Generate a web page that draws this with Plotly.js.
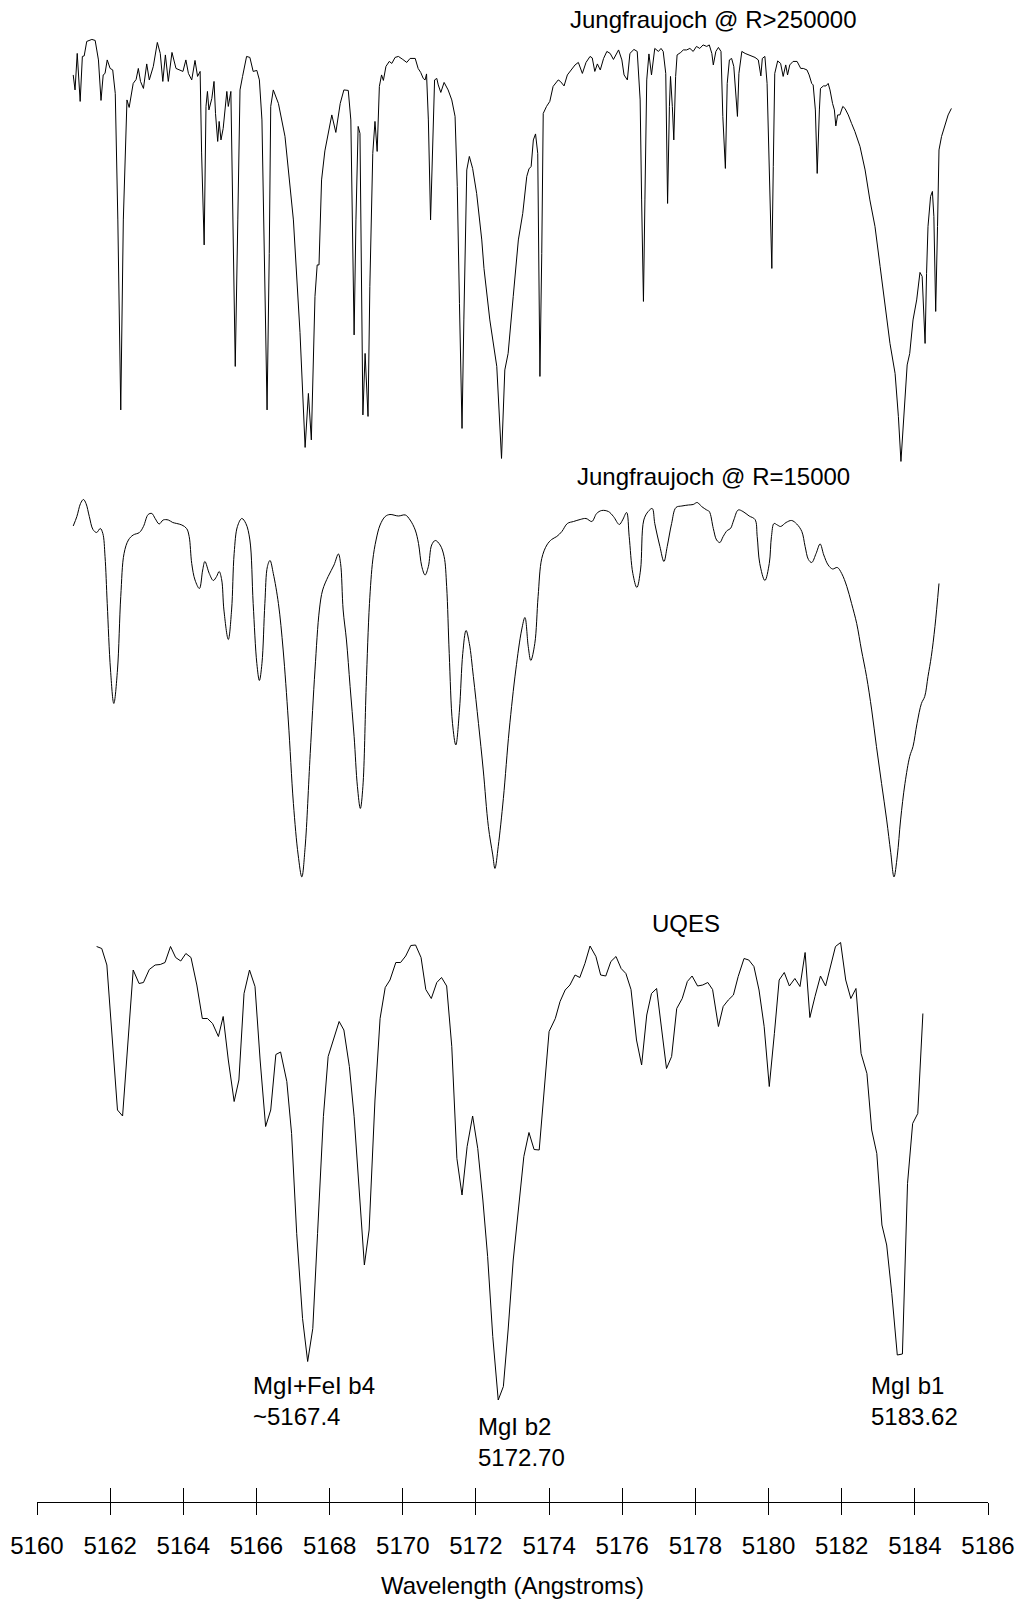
<!DOCTYPE html>
<html>
<head>
<meta charset="utf-8">
<script src="https://cdn.plot.ly/plotly-3.0.1.min.js"></script>
<style>html,body{margin:0;padding:0;background:#fff;}#chart{width:1021px;height:1604px;}</style>
</head>
<body>
<div id="chart"></div>
<script>
// Wavelength (Angstroms) and relative flux (percent of continuum-ish)
const wlHigh = [5160.99,5161.04,5161.10,5161.18,5161.24,5161.29,5161.36,5161.50,5161.59,5161.68,5161.75,5161.81,5161.86,5161.92,5162.00,5162.07,5162.14,5162.21,5162.29,5162.36,5162.46,5162.52,5162.63,5162.71,5162.77,5162.83,5162.91,5163.00,5163.07,5163.18,5163.29,5163.37,5163.44,5163.51,5163.59,5163.69,5163.80,5163.91,5163.99,5164.07,5164.14,5164.23,5164.32,5164.39,5164.46,5164.50,5164.57,5164.62,5164.66,5164.70,5164.78,5164.84,5164.88,5164.94,5164.98,5165.03,5165.09,5165.19,5165.23,5165.30,5165.35,5165.42,5165.49,5165.55,5165.62,5165.73,5165.82,5165.91,5166.01,5166.08,5166.15,5166.22,5166.29,5166.35,5166.39,5166.46,5166.60,5166.78,5167.01,5167.19,5167.33,5167.42,5167.50,5167.60,5167.66,5167.71,5167.78,5167.87,5167.99,5168.06,5168.17,5168.29,5168.39,5168.51,5168.58,5168.62,5168.67,5168.72,5168.78,5168.83,5168.87,5168.91,5168.97,5169.05,5169.10,5169.18,5169.24,5169.30,5169.36,5169.42,5169.47,5169.54,5169.63,5169.70,5169.79,5169.88,5170.00,5170.11,5170.20,5170.34,5170.42,5170.49,5170.56,5170.61,5170.65,5170.70,5170.76,5170.82,5170.87,5170.93,5170.97,5171.04,5171.13,5171.24,5171.34,5171.43,5171.49,5171.55,5171.62,5171.67,5171.75,5171.82,5171.91,5172.02,5172.16,5172.22,5172.38,5172.57,5172.70,5172.79,5172.88,5173.02,5173.16,5173.28,5173.39,5173.45,5173.51,5173.57,5173.63,5173.69,5173.71,5173.75,5173.80,5173.84,5173.93,5174.02,5174.11,5174.25,5174.31,5174.41,5174.50,5174.59,5174.71,5174.80,5174.91,5175.01,5175.12,5175.18,5175.25,5175.32,5175.40,5175.49,5175.58,5175.67,5175.76,5175.90,5175.99,5176.05,5176.14,5176.21,5176.32,5176.41,5176.49,5176.53,5176.58,5176.62,5176.67,5176.73,5176.80,5176.89,5176.99,5177.06,5177.12,5177.19,5177.24,5177.29,5177.32,5177.37,5177.41,5177.46,5177.50,5177.60,5177.67,5177.76,5177.85,5177.94,5178.03,5178.12,5178.21,5178.31,5178.38,5178.45,5178.49,5178.56,5178.63,5178.70,5178.75,5178.82,5178.87,5178.93,5178.99,5179.05,5179.11,5179.15,5179.19,5179.27,5179.36,5179.45,5179.54,5179.63,5179.72,5179.79,5179.83,5179.90,5179.96,5180.02,5180.09,5180.13,5180.17,5180.25,5180.33,5180.40,5180.47,5180.52,5180.58,5180.67,5180.78,5180.88,5180.95,5181.05,5181.11,5181.18,5181.22,5181.28,5181.33,5181.39,5181.42,5181.50,5181.57,5181.63,5181.68,5181.75,5181.80,5181.84,5181.89,5181.95,5182.03,5182.09,5182.18,5182.27,5182.36,5182.50,5182.64,5182.77,5182.91,5183.05,5183.18,5183.32,5183.46,5183.55,5183.62,5183.70,5183.79,5183.86,5183.95,5184.05,5184.14,5184.20,5184.24,5184.28,5184.32,5184.36,5184.43,5184.48,5184.52,5184.57,5184.62,5184.66,5184.73,5184.82,5184.91,5185.00];
const fluxHigh = [93,90,97.3,87.7,96.7,96.8,99.7,100.1,99.9,96,87.9,93,93.3,96,94.3,94,89.3,64,26,64,88,86.5,91.3,92.1,94.3,91.7,90.3,95.2,92,94.7,99.5,97.3,91.7,97,91.7,97.5,94.3,93.9,93.7,96,93.3,92,95.9,92.7,93.7,77.4,59,86.7,89.7,86,88.3,91.7,85.3,79.7,83.7,80,82.3,89.7,86.7,89.7,64,34.7,64,90,92.7,96.7,96.5,93.7,93.9,92,84,57.3,26,57.3,86.7,90,87.3,80.7,64,41.5,18.5,29.3,20,48.7,55,55,72,77.8,82,85,81.5,87.3,90,89.9,84,64,41,64,82.7,81.3,57.3,25,37.3,24.7,50.7,77.3,83.7,77.7,90.7,93,91.9,94.7,95.7,95.3,96.5,96.7,96.1,95.5,96.3,96.3,94.3,93.5,92.3,92,93.2,84,64,81.3,92,92.3,91,89.5,91.5,90,88,84.7,70.7,47.3,22.3,44,74,76.7,74.3,69.3,60,54.3,44,34.7,16.3,34,37.3,48.7,60,65.3,72.7,74.2,74.7,80,81.2,77.3,57.3,32.7,57.3,85.3,86.7,87.7,90.7,92,91.7,90.8,93,93.9,95,95.5,93.3,95.5,96.7,96.4,93.7,95.2,94,96.3,97.7,97.3,96.1,98,96,93,92,97.3,98.1,97.7,88,68,47.7,68,92,97.2,93,98.3,97.7,98.3,97.7,93.3,67.3,86.7,92.7,86.7,80,92.7,97,97.5,98,98,98.3,97.7,98.7,98.3,99,98.7,99,97.3,95,97.7,98.5,97.7,84.7,74.3,91.3,96,96.3,94.7,88,84.7,93.3,97.7,97.3,97,96.8,96.5,96,92.8,96.3,96.7,91.3,74.7,54.3,74.7,93.3,95.8,95.3,92.7,95,93,95,95.7,95.7,94.3,94.3,94,93,91.3,91,86,73.3,86,90.3,90.8,90.8,91.3,90,87.3,86,82.8,85,85,86.7,86.3,85,83.3,81.7,78.7,74,68,62.7,54.7,46.7,39.3,33.3,24.7,15.7,24.7,35,37.3,44,48,53.5,52.7,46.7,39.3,53.3,62.7,68.7,69.7,64.7,45.7,62.7,78,80.7,82.7,85,86.3];

const wlMid = [5160.99,5161.09,5161.19,5161.27,5161.34,5161.43,5161.53,5161.63,5161.73,5161.80,5161.86,5161.92,5162.01,5162.10,5162.20,5162.29,5162.38,5162.50,5162.63,5162.80,5162.91,5163.04,5163.14,5163.23,5163.34,5163.45,5163.59,5163.71,5163.82,5163.96,5164.09,5164.16,5164.23,5164.32,5164.44,5164.53,5164.59,5164.71,5164.82,5164.91,5164.98,5165.05,5165.11,5165.23,5165.32,5165.39,5165.48,5165.60,5165.71,5165.82,5165.91,5166.01,5166.08,5166.15,5166.23,5166.30,5166.37,5166.46,5166.60,5166.73,5166.87,5167.01,5167.14,5167.24,5167.33,5167.47,5167.60,5167.72,5167.81,5167.96,5168.12,5168.24,5168.30,5168.37,5168.46,5168.56,5168.67,5168.76,5168.84,5168.91,5169.00,5169.09,5169.18,5169.27,5169.38,5169.52,5169.65,5169.88,5170.07,5170.20,5170.34,5170.43,5170.52,5170.61,5170.70,5170.79,5170.89,5171.02,5171.13,5171.20,5171.27,5171.36,5171.45,5171.55,5171.64,5171.73,5171.82,5171.93,5172.07,5172.20,5172.34,5172.46,5172.52,5172.61,5172.75,5172.91,5173.09,5173.25,5173.34,5173.43,5173.50,5173.61,5173.70,5173.80,5173.94,5174.07,5174.21,5174.35,5174.50,5174.67,5174.85,5175.01,5175.17,5175.30,5175.44,5175.62,5175.76,5175.92,5176.01,5176.12,5176.19,5176.29,5176.40,5176.50,5176.59,5176.71,5176.82,5176.89,5177.03,5177.14,5177.23,5177.35,5177.47,5177.63,5177.81,5177.94,5178.05,5178.17,5178.31,5178.38,5178.49,5178.58,5178.67,5178.76,5178.87,5178.96,5179.05,5179.17,5179.30,5179.47,5179.63,5179.69,5179.76,5179.90,5180.02,5180.08,5180.15,5180.24,5180.33,5180.48,5180.63,5180.77,5180.91,5181.00,5181.09,5181.18,5181.30,5181.41,5181.51,5181.63,5181.75,5181.88,5182.00,5182.14,5182.27,5182.41,5182.54,5182.68,5182.82,5182.95,5183.09,5183.23,5183.34,5183.43,5183.52,5183.61,5183.73,5183.86,5183.95,5184.06,5184.18,5184.27,5184.36,5184.45,5184.55,5184.66];
const fluxMid = [94.8,96.7,99.3,100.1,99.3,96.7,94.1,93.5,94.3,93.3,88.7,79.3,66,59.3,66,80.7,89.3,92,93,93.5,94.7,97.1,97.3,96.3,95.2,96,96,95.5,95.3,95,94.3,92.7,87.3,84,82.3,86,87.7,85.3,83.9,84.7,85.7,84,78,72.1,78,89.3,94.7,96.3,95.3,92,79.3,67.3,63.9,67.3,79.3,86.7,87.9,85.3,79.3,70,56,39.3,29,24.6,30.5,49.3,66,78,82,84.7,87,89.2,87.3,78,72,62.7,52.7,42.7,38.3,42.7,62.7,79.3,88,92,95,96.7,97.1,96.8,97,96,94,91.3,86.7,85,86.7,91,91.9,91,88.7,82.7,69.3,55.3,51,58,69.3,73.9,71.3,64.7,55.3,46,34.7,29,26.3,30.7,40.3,54,66,74,76.5,70.7,67.9,71.3,80.7,88.3,91,92.1,92.7,93.7,95.3,95.7,96.1,96.3,95.7,97.3,97.9,97.7,96.7,95.1,96,97.5,92.7,85.3,82.5,86,96,97.7,98.3,95.3,90.7,87.7,90.7,95.3,98.5,98.8,99,99.1,99.5,98.7,98,97.7,94.3,92,91.5,92.7,93.9,94.3,96,98,97.7,96.8,96.1,92.7,87.3,83.9,87.3,92.7,95.3,95,94.7,95.5,95.9,95.2,93.7,90.7,88.1,87.5,89.3,91.2,89,87,86.2,86.5,85.3,82.7,79.3,75.3,70,64.7,58,50.7,43.3,36,29.5,24.6,28.8,36,43.3,48.7,50.7,55.3,59.3,60.7,64.7,68.7,74.7,83.3];

const wlUqes = [5161.63,5161.77,5161.91,5162.04,5162.20,5162.34,5162.50,5162.63,5162.79,5162.91,5163.07,5163.23,5163.37,5163.50,5163.65,5163.79,5163.93,5164.07,5164.21,5164.37,5164.52,5164.66,5164.80,5164.96,5165.09,5165.23,5165.39,5165.52,5165.66,5165.81,5165.96,5166.10,5166.25,5166.39,5166.53,5166.66,5166.83,5166.96,5167.10,5167.26,5167.40,5167.54,5167.67,5167.83,5167.96,5168.10,5168.26,5168.39,5168.54,5168.67,5168.81,5168.95,5169.08,5169.24,5169.38,5169.52,5169.65,5169.81,5169.94,5170.08,5170.22,5170.35,5170.50,5170.63,5170.78,5170.93,5171.06,5171.20,5171.34,5171.48,5171.62,5171.76,5171.91,5172.05,5172.19,5172.32,5172.46,5172.61,5172.75,5172.88,5173.02,5173.16,5173.31,5173.45,5173.59,5173.73,5173.86,5174.00,5174.17,5174.30,5174.44,5174.57,5174.71,5174.84,5174.98,5175.12,5175.28,5175.41,5175.55,5175.69,5175.83,5175.97,5176.10,5176.24,5176.39,5176.53,5176.67,5176.80,5176.94,5177.08,5177.21,5177.35,5177.49,5177.64,5177.78,5177.91,5178.06,5178.20,5178.34,5178.47,5178.63,5178.76,5178.90,5179.04,5179.17,5179.33,5179.46,5179.60,5179.74,5179.88,5180.02,5180.16,5180.29,5180.43,5180.57,5180.72,5180.86,5181.00,5181.13,5181.27,5181.42,5181.56,5181.70,5181.83,5181.97,5182.11,5182.25,5182.39,5182.53,5182.69,5182.82,5182.96,5183.10,5183.23,5183.37,5183.52,5183.66,5183.80,5183.94,5184.08,5184.22];
const fluxUqes = [98.7,98.3,95,81.3,66,64.8,81.3,94,91.3,91.5,94.1,95,95.1,95.5,98.7,96.5,95.8,97.3,96.5,91,84.3,84.3,83.3,80.7,84.7,76,67.7,72,89.3,94,90.7,76,62.7,66,77.1,77.6,71.7,61.3,41.3,24.3,15.7,22.3,41.3,64.7,76.7,80,83.7,82,74.7,64.7,49.3,35,42,68,84.3,90.5,92,95.5,95.5,96.8,98.9,99,96.5,90.1,88.3,91.5,92.5,90.8,78.7,56.3,49,58.7,64.8,58.3,48,36.7,20.7,8,10.7,22,36,46.7,56.7,61.5,58.1,58,70,81.7,84.3,87.7,90,91,93,92.5,95.3,98.8,96.7,93,92.8,95.7,96.7,94.3,93.3,90.1,80,75,85,89.3,90.3,82,74.3,76.7,86.3,88.3,91.7,92.8,90.8,91,91.5,90.1,82.7,86.7,88,89,92.7,96.3,96,94.7,90,82.7,70.7,81.3,92,93.5,90.8,92.3,90.7,97.5,84.5,88.7,92.8,90.8,95,98.7,99.5,92,88.3,90.3,77.3,73.3,62,57.3,43,39,29.3,17,17.2,51.3,63.3,65.3,85.3];

const seriesLabels = ['Jungfraujoch @ R>250000', 'Jungfraujoch @ R=15000', 'UQES'];
const lineNames = ['MgI+FeI b4<br>~5167.4', 'MgI b2<br>5172.70', 'MgI b1<br>5183.62'];
const lineLabelX = [5165.84, 5171.99, 5182.76];
const lineLabelY = [0.0672, 0.0399, 0.0672];
const seriesLabelX = [5178.5, 5178.5, 5177.73];
const seriesLabelY = [0.987, 0.6826, 0.385];

const FONT = 'Liberation Sans, Arial, Helvetica, sans-serif';
const lineStyle = {color: '#000', width: 1};

const traces = [
  {x: wlHigh, y: fluxHigh, xaxis: 'x', yaxis: 'y', type: 'scatter', mode: 'lines', line: lineStyle, name: seriesLabels[0]},
  {x: wlMid, y: fluxMid, xaxis: 'x', yaxis: 'y2', type: 'scatter', mode: 'lines', line: Object.assign({shape: 'spline', smoothing: 1}, lineStyle), name: seriesLabels[1]},
  {x: wlUqes, y: fluxUqes, xaxis: 'x2', yaxis: 'y3', type: 'scatter', mode: 'lines', line: lineStyle, name: seriesLabels[2]}
];

const hiddenY = {visible: false, showgrid: false, zeroline: false, fixedrange: true};

const annotations = [];
seriesLabels.forEach((t, i) => annotations.push({
  text: t, x: seriesLabelX[i], xref: 'x', y: seriesLabelY[i], yref: 'paper',
  xanchor: 'center', yanchor: 'middle', showarrow: false,
  font: {family: FONT, size: 24, color: '#000'}
}));
lineNames.forEach((t, i) => annotations.push({
  text: t, x: lineLabelX[i], xref: 'x', y: lineLabelY[i], yref: 'paper',
  xanchor: 'left', yanchor: 'middle', align: 'left', showarrow: false,
  font: {family: FONT, size: 24, color: '#000'}
}));

const layout = {
  width: 1021, height: 1604, autosize: false,
  margin: {l: 37, r: 33, t: 0, b: 102, pad: 0},
  paper_bgcolor: '#fff', plot_bgcolor: '#fff',
  showlegend: false,
  font: {family: FONT, size: 24, color: '#000'},
  xaxis: {
    range: [5160, 5186], tickmode: 'linear', tick0: 5160, dtick: 2,
    ticks: 'outside', ticklen: 12, tickwidth: 1, tickcolor: '#000',
    showline: true, linecolor: '#000', linewidth: 1,
    showgrid: false, zeroline: false, anchor: 'free', position: 0,
    tickfont: {family: FONT, size: 24, color: '#000'},
    ticklabelstandoff: 10,
    title: {text: 'Wavelength (Angstroms)', font: {family: FONT, size: 24, color: '#000'}, standoff: 19},
    automargin: false
  },
  xaxis2: {
    range: [5160, 5186], tickmode: 'linear', tick0: 5160, dtick: 2,
    overlaying: 'x', side: 'bottom', anchor: 'free', position: 0,
    ticks: 'inside', ticklen: 14, tickwidth: 1, tickcolor: '#000',
    showticklabels: false, showline: false, showgrid: false, zeroline: false
  },
  yaxis: Object.assign({domain: [0.6838, 0.9834], range: [13, 103]}, hiddenY),
  yaxis2: Object.assign({domain: [0.4075, 0.6771], range: [22, 103]}, hiddenY),
  yaxis3: Object.assign({domain: [0.06125, 0.38415], range: [6, 103]}, hiddenY),
  annotations: annotations
};

Plotly.newPlot('chart', traces, layout, {staticPlot: true, displayModeBar: false});
</script>
</body>
</html>
